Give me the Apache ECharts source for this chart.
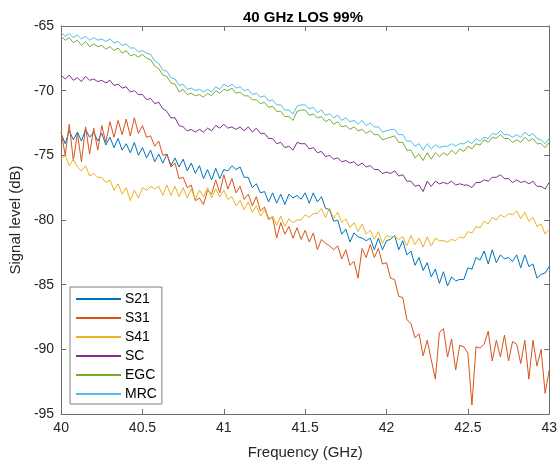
<!DOCTYPE html>
<html>
<head>
<meta charset="utf-8">
<title>40 GHz LOS 99%</title>
<script src="https://cdn.jsdelivr.net/npm/echarts@6/dist/echarts.min.js"></script>
<style>
  html, body { margin: 0; padding: 0; background: #fff; }
  #myChart { width: 560px; height: 466px; }
</style>
</head>
<body>
<div id="myChart"></div>
<script>
// frequency grid (GHz), 0.025 step
const freq = [
  40.000, 40.025, 40.050, 40.075, 40.100, 40.125, 40.150, 40.175, 40.200, 40.225, 40.250, 40.275,
  40.300, 40.325, 40.350, 40.375, 40.400, 40.425, 40.450, 40.475, 40.500, 40.525, 40.550, 40.575,
  40.600, 40.625, 40.650, 40.675, 40.700, 40.725, 40.750, 40.775, 40.800, 40.825, 40.850, 40.875,
  40.900, 40.925, 40.950, 40.975, 41.000, 41.025, 41.050, 41.075, 41.100, 41.125, 41.150, 41.175,
  41.200, 41.225, 41.250, 41.275, 41.300, 41.325, 41.350, 41.375, 41.400, 41.425, 41.450, 41.475,
  41.500, 41.525, 41.550, 41.575, 41.600, 41.625, 41.650, 41.675, 41.700, 41.725, 41.750, 41.775,
  41.800, 41.825, 41.850, 41.875, 41.900, 41.925, 41.950, 41.975, 42.000, 42.025, 42.050, 42.075,
  42.100, 42.125, 42.150, 42.175, 42.200, 42.225, 42.250, 42.275, 42.300, 42.325, 42.350, 42.375,
  42.400, 42.425, 42.450, 42.475, 42.500, 42.525, 42.550, 42.575, 42.600, 42.625, 42.650, 42.675,
  42.700, 42.725, 42.750, 42.775, 42.800, 42.825, 42.850, 42.875, 42.900, 42.925, 42.950, 42.975,
  43.000
];

// signal level (dB)
const s21 = [
  -73.3, -74.1, -73.1, -73.8, -73.2, -73.9, -73.0, -73.6, -73.2, -73.9, -73.3, -74.2,
  -73.6, -74.4, -73.7, -74.6, -74.1, -74.8, -74.0, -75.0, -74.4, -75.2, -74.6, -75.5,
  -74.9, -75.6, -74.9, -75.8, -75.2, -75.9, -75.3, -76.2, -75.6, -76.4, -75.8, -76.8,
  -76.1, -76.9, -76.0, -76.8, -76.1, -76.2, -75.8, -76.1, -75.9, -76.7, -76.7, -77.5,
  -77.2, -77.9, -77.8, -78.6, -77.9, -78.7, -78.0, -78.8, -78.0, -78.3, -78.1, -78.4,
  -77.9, -78.7, -77.9, -78.6, -78.2, -79.1, -79.2, -80.1, -80.0, -81.1, -80.7, -81.7,
  -81.0, -81.3, -81.4, -81.6, -81.4, -82.3, -81.4, -82.3, -81.6, -81.5, -81.2, -82.3,
  -81.6, -82.7, -82.4, -83.5, -82.9, -83.9, -83.3, -84.4, -83.8, -84.9, -84.0, -85.1,
  -84.4, -84.7, -84.6, -84.6, -83.7, -83.8, -82.9, -83.1, -82.4, -83.4, -82.3, -83.3,
  -82.7, -83.0, -82.9, -83.2, -82.7, -83.7, -82.7, -83.6, -83.4, -84.5, -84.2, -84.1,
  -83.6
];
const s31 = [
  -73.2, -75.0, -72.6, -75.4, -73.3, -75.5, -72.8, -74.9, -72.9, -74.6, -72.7, -74.0,
  -72.4, -73.6, -72.3, -73.4, -72.2, -73.5, -72.1, -73.3, -72.7, -73.6, -73.5, -74.3,
  -73.9, -75.0, -74.9, -75.9, -75.6, -76.8, -76.7, -77.5, -77.3, -78.5, -78.3, -78.8,
  -77.7, -78.0, -76.9, -77.9, -76.5, -77.6, -76.8, -77.9, -77.4, -78.4, -78.0, -78.9,
  -78.2, -79.3, -79.0, -79.9, -79.8, -81.4, -80.2, -81.1, -80.5, -81.4, -80.6, -81.5,
  -80.8, -81.7, -81.0, -82.3, -81.5, -81.8, -82.0, -82.3, -82.0, -83.0, -82.3, -83.5,
  -83.2, -84.5, -82.2, -82.9, -81.9, -82.9, -82.2, -83.4, -83.3, -84.5, -84.6, -85.9,
  -86.0, -87.7, -88.0, -89.1, -88.8, -90.5, -89.3, -90.8, -92.3, -88.7, -88.4, -90.6,
  -89.2, -91.6, -89.7, -89.8, -90.3, -94.3, -89.8, -89.9, -89.6, -88.6, -90.9, -89.3,
  -90.6, -88.9, -90.9, -89.4, -89.6, -91.1, -89.3, -92.3, -89.3, -91.3, -90.0, -93.4,
  -91.6
];
const s41 = [
  -75.3, -75.0, -75.8, -75.3, -75.9, -76.2, -75.8, -76.6, -76.4, -76.7, -76.7, -77.1,
  -76.9, -77.7, -77.2, -78.0, -77.5, -78.5, -77.7, -78.3, -77.5, -77.7, -77.4, -77.6,
  -77.4, -78.1, -77.3, -78.1, -77.4, -78.2, -77.5, -78.3, -77.6, -78.4, -77.7, -78.2,
  -77.5, -78.3, -77.6, -78.2, -77.7, -78.4, -78.2, -78.9, -78.5, -79.2, -78.6, -79.4,
  -78.9, -79.7, -79.2, -80.0, -79.7, -80.4, -79.7, -80.5, -79.9, -80.2, -80.0, -80.0,
  -79.6, -79.8, -79.5, -79.5, -79.1, -79.8, -79.1, -79.9, -79.4, -80.2, -79.9, -80.6,
  -80.2, -80.9, -80.3, -81.1, -80.8, -81.5, -80.9, -81.8, -81.2, -81.3, -81.3, -81.5,
  -81.3, -82.0, -81.2, -81.9, -81.4, -82.1, -81.3, -82.0, -81.4, -81.6, -81.6, -81.7,
  -81.5, -81.6, -81.3, -81.4, -80.9, -81.0, -80.5, -80.6, -80.1, -80.3, -79.8, -80.0,
  -79.6, -79.8, -79.5, -79.6, -79.3, -79.9, -79.4, -80.1, -79.8, -80.5, -80.3, -81.1,
  -80.7
];
const sc = [
  -68.8, -69.1, -68.8, -69.2, -69.0, -69.3, -68.9, -69.2, -69.1, -69.3, -69.2, -69.4,
  -69.2, -69.6, -69.5, -69.8, -69.7, -70.1, -70.0, -70.3, -70.3, -70.7, -70.6, -71.0,
  -70.9, -71.4, -71.6, -72.1, -72.1, -72.7, -72.8, -73.1, -73.0, -73.2, -73.0, -73.2,
  -72.9, -73.1, -72.7, -72.9, -72.6, -72.9, -72.8, -73.0, -72.8, -73.1, -72.8, -73.2,
  -72.9, -73.3, -73.3, -73.7, -73.7, -74.1, -74.0, -74.4, -74.3, -74.6, -74.0, -74.1,
  -74.1, -74.5, -74.4, -74.8, -74.7, -75.1, -75.0, -75.3, -75.2, -75.5, -75.4, -75.6,
  -75.5, -75.8, -75.6, -75.9, -75.8, -76.1, -76.1, -76.4, -76.3, -76.4, -76.2, -76.6,
  -76.5, -77.0, -77.0, -77.4, -77.3, -77.8, -77.0, -77.4, -77.0, -77.2, -77.1, -77.2,
  -77.0, -77.3, -77.2, -77.3, -77.3, -77.5, -77.1, -77.1, -76.9, -77.0, -76.7, -76.7,
  -76.5, -76.8, -76.8, -77.1, -76.9, -77.1, -77.0, -77.2, -77.0, -77.4, -77.4, -77.6,
  -77.1
];
const egc = [
  -65.8, -66.1, -65.9, -66.3, -66.1, -66.5, -66.2, -66.6, -66.4, -66.6, -66.5, -66.8,
  -66.6, -66.9, -66.7, -67.1, -66.9, -67.3, -67.2, -67.4, -67.2, -67.5, -67.6, -68.1,
  -68.3, -68.8, -68.9, -69.4, -69.5, -70.1, -69.9, -70.3, -70.2, -70.4, -70.3, -70.5,
  -70.2, -70.4, -70.0, -70.2, -69.9, -70.0, -69.8, -70.2, -70.1, -70.4, -70.4, -70.7,
  -70.7, -71.0, -70.9, -71.3, -71.2, -71.6, -71.6, -72.0, -72.0, -72.3, -71.6, -71.5,
  -71.5, -71.9, -71.8, -72.1, -72.0, -72.4, -72.2, -72.6, -72.4, -72.8, -72.7, -73.0,
  -72.8, -73.1, -73.0, -73.3, -73.1, -73.4, -73.4, -73.8, -73.7, -73.6, -73.5, -74.0,
  -74.0, -74.6, -74.6, -75.2, -74.9, -75.4, -74.8, -75.3, -74.8, -75.1, -74.8, -75.0,
  -74.6, -74.9, -74.5, -74.7, -74.3, -74.5, -74.1, -74.2, -73.8, -74.0, -73.6, -73.7,
  -73.4, -73.7, -73.7, -74.0, -73.8, -74.0, -73.6, -73.9, -73.7, -74.1, -74.1, -74.4,
  -74.0
];
const mrc = [
  -65.5, -65.8, -65.6, -65.9, -65.7, -66.0, -65.8, -66.1, -65.9, -66.1, -66.0, -66.2,
  -66.0, -66.3, -66.2, -66.5, -66.4, -66.7, -66.7, -67.0, -66.9, -67.1, -67.2, -67.7,
  -67.9, -68.4, -68.5, -69.0, -69.1, -69.6, -69.5, -69.9, -69.8, -70.0, -69.9, -70.1,
  -69.9, -70.1, -69.7, -69.9, -69.5, -69.7, -69.5, -69.8, -69.7, -70.0, -69.9, -70.3,
  -70.2, -70.5, -70.4, -70.8, -70.7, -71.1, -71.1, -71.5, -71.5, -71.8, -71.2, -71.1,
  -71.1, -71.4, -71.3, -71.7, -71.5, -71.9, -71.8, -72.1, -71.9, -72.3, -72.1, -72.4,
  -72.3, -72.6, -72.3, -72.7, -72.5, -72.8, -72.8, -73.2, -73.1, -73.0, -73.0, -73.4,
  -73.4, -73.9, -73.9, -74.3, -74.1, -74.6, -74.1, -74.5, -74.2, -74.4, -74.3, -74.3,
  -74.1, -74.3, -74.1, -74.1, -73.9, -74.1, -73.7, -73.9, -73.6, -73.7, -73.3, -73.4,
  -73.1, -73.4, -73.4, -73.6, -73.4, -73.6, -73.2, -73.5, -73.3, -73.7, -73.8, -74.1,
  -73.7
];

const names = ["S21", "S31", "S41", "SC", "EGC", "MRC"];
const colors = ["#0072BD", "#D95319", "#EDB120", "#7E2F8E", "#77AC30", "#4DBEEE"];
const levels = [s21, s31, s41, sc, egc, mrc];

const axisColor = "#6f6f6f";
const textColor = "#262626";
const fontFam = "'Liberation Sans', Arial, sans-serif";

let myChart = echarts.init(document.getElementById("myChart"));

// one axis builder for the box (bottom/top, left/right)
function boxAxis(pos, min, max, interval, showLabel) {
  return {
    type: "value",
    position: pos,
    min: min,
    max: max,
    interval: interval,
    axisLine: { show: true, onZero: false, lineStyle: { color: axisColor, width: 1 } },
    axisTick: { show: true, inside: true, length: 5, lineStyle: { color: axisColor } },
    axisLabel: { show: showLabel, color: textColor, fontSize: 14, fontFamily: fontFam, margin: 7 },
    splitLine: { show: false }
  };
}

let xBottom = boxAxis("bottom", 40, 43, 0.5, true);
xBottom.name = "Frequency (GHz)";
xBottom.nameLocation = "middle";
xBottom.nameGap = 31;
xBottom.nameTextStyle = { color: textColor, fontSize: 15, fontFamily: fontFam };

let yLeft = boxAxis("left", -95, -65, 5, true);
yLeft.name = "Signal level (dB)";
yLeft.nameLocation = "middle";
yLeft.nameGap = 33;
yLeft.nameTextStyle = { color: textColor, fontSize: 15, fontFamily: fontFam };

myChart.setOption({
  animation: false,
  backgroundColor: "#fff",
  title: {
    text: "40 GHz LOS 99%",
    left: 238,
    top: 5,
    textStyle: { color: "#000", fontSize: 15, fontWeight: "bold", fontFamily: fontFam }
  },
  grid: { left: 58, top: 26, width: 493, height: 388, containLabel: false },
  legend: {
    data: names,
    orient: "vertical",
    left: 70,
    top: 287,
    itemWidth: 45,
    itemHeight: 14,
    itemGap: 5,
    padding: [5, 5, 3, 5],
    borderColor: "#808080",
    borderWidth: 1,
    backgroundColor: "#fff",
    // hide the marker dot, keep only the line sample
    itemStyle: { opacity: 0 },
    textStyle: { color: "#000", fontSize: 14, fontFamily: fontFam, padding: [0, 0, 0, -1] }
  },
  xAxis: [xBottom, boxAxis("top", 40, 43, 0.5, false)],
  yAxis: [yLeft, boxAxis("right", -95, -65, 5, false)],
  series: names.map((n, i) => {
    return {
      name: n,
      type: "line",
      symbol: "none",
      showSymbol: false,
      color: colors[i],
      lineStyle: { width: 1, color: colors[i] },
      data: freq.map((f, k) => [f, levels[i][k]])
    };
  })
});
</script>
</body>
</html>
